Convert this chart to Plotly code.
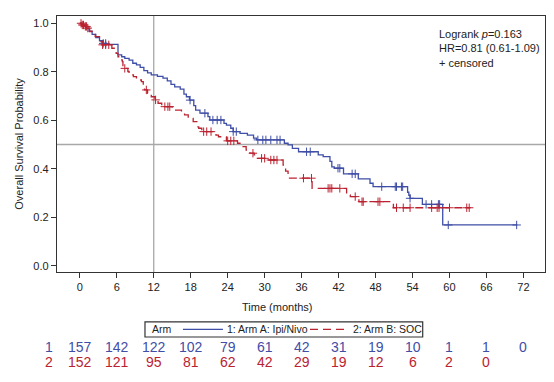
import plotly.graph_objects as go
import bisect

# ---------------- data ----------------
blue_name = "1: Arm A: Ipi/Nivo"
red_name = "2: Arm B: SOC"
legend_title = "Arm"
x_title = "Time (months)"
y_title = "Overall Survival Probability"

blue_t = [0, 0.3, 0.6, 1.0, 1.5, 2.0, 2.6, 3.2, 3.8, 4.3, 6.2, 6.8, 7.3, 8.0, 8.6, 9.2, 9.8,
          10.4, 11.0, 11.6, 12.6, 13.5, 14.2, 14.8, 15.4, 16.3, 16.9, 17.3, 17.8, 18.5, 18.8,
          19.5, 20.8, 21.1, 23.4, 23.8, 24.5, 24.9, 26.0, 27.2, 28.2, 28.7, 33.2, 33.8, 34.5,
          35.5, 38.7, 39.5, 40.6, 40.9, 41.3, 42.8, 45.2, 47.1, 47.6, 53.2, 53.4, 53.6, 55.6,
          58.9, 71.0]
blue_s = [1.0, 0.993, 0.987, 0.98, 0.967, 0.954, 0.941, 0.928, 0.917, 0.913, 0.87, 0.862,
          0.855, 0.848, 0.835, 0.828, 0.818, 0.805, 0.795, 0.787, 0.781, 0.774, 0.762, 0.748,
          0.738, 0.728, 0.708, 0.697, 0.683, 0.66, 0.642, 0.629, 0.615, 0.601, 0.587, 0.58,
          0.567, 0.553, 0.546, 0.539, 0.526, 0.519, 0.505, 0.498, 0.484, 0.47, 0.457, 0.45,
          0.43, 0.408, 0.402, 0.379, 0.358, 0.34, 0.326, 0.303, 0.29, 0.278, 0.253, 0.168,
          0.168]
blue_cens = [3.8, 4.2, 17.9, 20.3, 21.6, 22.3, 22.9, 24.9, 25.4, 28.9, 29.7, 30.2, 31.0,
             32.0, 32.5, 36.8, 37.4, 41.9, 42.2, 44.2, 44.7, 49.0, 51.2, 51.4, 52.2, 52.4,
             53.6, 56.2, 57.1, 58.2, 58.4, 59.8, 70.9]

red_t = [0, 0.3, 0.8, 1.2, 1.6, 2.0, 2.5, 3.2, 3.3, 3.6, 5.2, 5.7, 5.9, 6.2, 6.8, 6.9, 7.0,
         7.3, 7.8, 8.0, 8.7, 9.2, 10.0, 10.3, 10.5, 11.0, 11.6, 12.2, 12.7, 13.3, 15.0, 15.4,
         16.5, 17.0, 17.6, 18.4, 19.0, 19.3, 19.8, 22.1, 22.5, 23.8, 25.6, 26.0, 27.0, 27.6,
         28.3, 28.5, 30.5, 33.0, 33.4, 33.8, 37.7, 43.3, 43.9, 45.3, 50.9, 63.3]
red_s = [1.0, 0.993, 0.987, 0.98, 0.966, 0.959, 0.945, 0.93, 0.924, 0.911, 0.897, 0.883,
         0.876, 0.862, 0.849, 0.842, 0.821, 0.814, 0.801, 0.787, 0.78, 0.766, 0.759, 0.739,
         0.725, 0.711, 0.697, 0.684, 0.67, 0.656, 0.649, 0.642, 0.629, 0.622, 0.608, 0.594,
         0.573, 0.567, 0.553, 0.539, 0.532, 0.515, 0.505, 0.491, 0.477, 0.464, 0.457, 0.443,
         0.436, 0.415, 0.39, 0.361, 0.319, 0.292, 0.285, 0.264, 0.239, 0.239]
red_cens = [0.2, 0.4, 0.6, 0.9, 1.1, 1.3, 3.7, 4.2, 4.7, 7.3, 10.8, 12.3, 13.8, 14.3, 14.6,
            20.1, 20.6, 21.3, 24.0, 24.5, 25.0, 28.1, 29.5, 30.0, 31.0, 31.5, 32.0, 36.3,
            37.6, 40.3, 40.6, 40.9, 42.2, 44.7, 45.8, 46.0, 48.4, 48.7, 51.4, 52.5, 53.6,
            57.1, 58.0, 58.3, 60.0, 62.8, 63.2]

risk_times = [0, 6, 12, 18, 24, 30, 36, 42, 48, 54, 60, 66, 72]
blue_risk = [157, 142, 122, 102, 79, 61, 42, 31, 19, 10, 1, 1, 0]
red_risk = [152, 121, 95, 81, 62, 42, 29, 19, 12, 6, 2, 0]
risk_label_time = -6
risk_labels = ["1", "2"]

x_ticks = list(range(0, 73, 6))
y_ticks = [0.0, 0.2, 0.4, 0.6, 0.8, 1.0]
ref_time = 12
ref_surv = 0.5
stats_text = "Logrank <i>p</i>=0.163<br>HR=0.81 (0.61-1.09)<br>+ censored"

# ---------------- styling ----------------
BLUE = "#3F4EA6"
RED = "#BB2230"
TXT = "#222222"
FONT = "Arial, Liberation Sans, sans-serif"
X_RANGE = [-3.7, 75.5]
Y_RANGE = [-0.026, 1.03]


def surv_at(ts, ss, t):
    i = bisect.bisect_right(ts, t) - 1
    return ss[max(i, 0)]


fig = go.Figure()

fig.add_trace(go.Scatter(x=blue_t, y=blue_s, mode="lines", line_shape="hv",
                         line=dict(color=BLUE, width=1.3), name=blue_name, showlegend=False))
fig.add_trace(go.Scatter(x=red_t, y=red_s, mode="lines", line_shape="hv",
                         line=dict(color=RED, width=1.3, dash="8px,5px"), name=red_name,
                         showlegend=False))
fig.add_trace(go.Scatter(x=blue_cens, y=[surv_at(blue_t, blue_s, t) for t in blue_cens],
                         mode="markers", showlegend=False,
                         marker=dict(symbol="cross-thin", size=6,
                                     line=dict(color=BLUE, width=1))))
fig.add_trace(go.Scatter(x=red_cens, y=[surv_at(red_t, red_s, t) for t in red_cens],
                         mode="markers", showlegend=False,
                         marker=dict(symbol="cross-thin", size=6,
                                     line=dict(color=RED, width=1))))

# reference lines
fig.add_shape(type="line", xref="x", yref="paper", x0=ref_time, x1=ref_time, y0=0, y1=1,
              line=dict(color="#A8A8A8", width=1.3), layer="below")
fig.add_shape(type="line", xref="paper", yref="y", x0=0, x1=1, y0=ref_surv, y1=ref_surv,
              line=dict(color="#A8A8A8", width=1.3), layer="below")

fig.add_annotation(text=stats_text, xref="paper", yref="paper", x=0.779, y=0.962,
                   xanchor="left", yanchor="top", showarrow=False, align="left",
                   font=dict(size=11, color=TXT, family=FONT))

# x-axis title, centred on the whole figure as in the reference
fig.add_annotation(text=x_title, xref="paper", yref="paper", x=0.451, y=-0.135,
                   xanchor="center", yanchor="middle", showarrow=False,
                   font=dict(size=11, color=TXT, family=FONT))

# ---------------- legend box (drawn below the axis) ----------------
lg_top, lg_bot = -0.195, -0.254
lg_mid = (lg_top + lg_bot) / 2
fig.add_shape(type="rect", xref="paper", yref="paper", x0=0.1803, x1=0.7494,
              y0=lg_bot, y1=lg_top, line=dict(color="#333", width=1.2), fillcolor="white")
fig.add_annotation(text=legend_title, xref="paper", yref="paper", x=0.19, y=lg_mid,
                   xanchor="left", yanchor="middle", showarrow=False,
                   font=dict(size=10.5, color=TXT, family=FONT))
fig.add_shape(type="line", xref="paper", yref="paper", x0=0.258, x1=0.340,
              y0=lg_mid, y1=lg_mid, line=dict(color=BLUE, width=1.3))
fig.add_annotation(text=blue_name, xref="paper", yref="paper", x=0.344, y=lg_mid,
                   xanchor="left", yanchor="middle", showarrow=False,
                   font=dict(size=10.5, color=TXT, family=FONT))
fig.add_shape(type="line", xref="paper", yref="paper", x0=0.5184, x1=0.5963,
              y0=lg_mid, y1=lg_mid, line=dict(color=RED, width=1.3, dash="8px,5px"))
fig.add_annotation(text=red_name, xref="paper", yref="paper", x=0.6015, y=lg_mid,
                   xanchor="left", yanchor="middle", showarrow=False,
                   font=dict(size=10.5, color=TXT, family=FONT))

# ---------------- at-risk table ----------------
row_y = [-0.332, -0.389]
label_x = (risk_label_time - X_RANGE[0]) / (X_RANGE[1] - X_RANGE[0])
for lab, yy, col in zip(risk_labels, row_y, [BLUE, RED]):
    fig.add_annotation(text=lab, x=label_x, xref="paper", y=yy, yref="paper",
                       showarrow=False, font=dict(size=14, color=col, family=FONT))
for counts, yy, col in zip([blue_risk, red_risk], row_y, [BLUE, RED]):
    for t, n in zip(risk_times, counts):
        fig.add_annotation(text=str(n), x=t, xref="x", y=yy, yref="paper",
                           showarrow=False, font=dict(size=14, color=col, family=FONT))

# the page body adds an 8px offset, so the figure is sized to fill the rest of the window
fig.update_layout(
    width=546, height=374,
    margin=dict(l=49, r=9, t=8, b=110, autoexpand=False),
    paper_bgcolor="white", plot_bgcolor="white",
    font=dict(family=FONT, size=11, color=TXT),
    showlegend=False,
    xaxis=dict(range=X_RANGE, tickvals=x_ticks, ticks="outside", ticklen=5,
               tickwidth=1, tickcolor="#333", showline=True, linecolor="#333", linewidth=1.3,
               mirror=True, showgrid=False, zeroline=False, automargin=False,
               tickfont=dict(size=11, family=FONT, color=TXT)),
    yaxis=dict(range=Y_RANGE, tickvals=y_ticks, tickformat=".1f", ticks="outside",
               ticklen=5, tickwidth=1, tickcolor="#333", showline=True, linecolor="#333",
               linewidth=1.3, mirror=True, showgrid=False, zeroline=False, automargin=False,
               tickfont=dict(size=11, family=FONT, color=TXT),
               title=dict(text=y_title, font=dict(size=11, family=FONT), standoff=7)),
)

fig.write_html("out.html")
